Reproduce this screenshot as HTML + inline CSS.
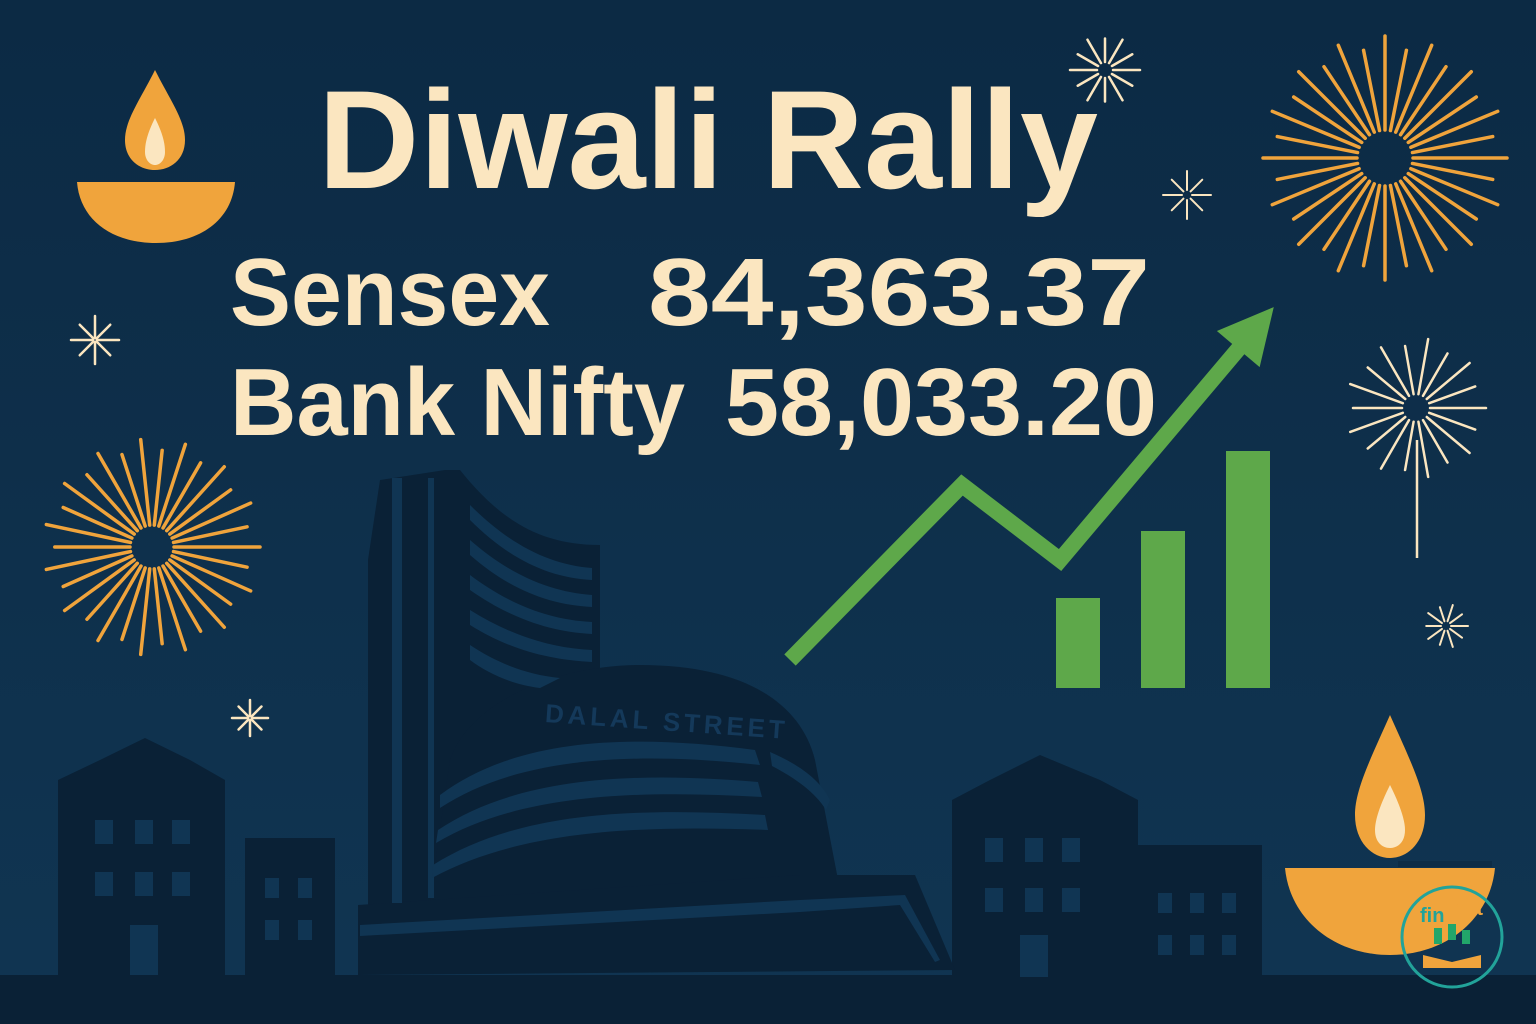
<!DOCTYPE html>
<html><head><meta charset="utf-8"><style>
html,body{margin:0;padding:0;width:1536px;height:1024px;overflow:hidden;background:#0d2c46}
svg{display:block}
text{font-family:"Liberation Sans",sans-serif;font-weight:bold}
</style></head><body>
<svg id="s" width="1536" height="1024" viewBox="0 0 1536 1024">
<defs>
<linearGradient id="bg" x1="0" y1="0" x2="0" y2="1"><stop offset="0" stop-color="#0c2a44"/><stop offset="1" stop-color="#103552"/></linearGradient>
</defs>
<rect width="1536" height="1024" fill="url(#bg)"/>
<g id="fx"></g>

<!-- skyline -->
<g fill="#0a2136">
<path d="M58,780 L100,760 L145,738 L190,760 L225,780 L225,1000 L58,1000Z"/>
<rect x="245" y="838" width="90" height="162"/>
<path d="M952,800 L990,780 L1040,755 L1100,780 L1138,800 L1138,1000 L952,1000Z"/>
<rect x="1130" y="845" width="132" height="155"/>
<path d="M380,480 L445,470 L460,470 C500,520 540,545 600,545 L600,900 L368,910 L368,560Z"/>
<path d="M430,900 L450,760 C470,700 560,665 640,665 C740,665 800,700 815,760 L840,890Z"/>
<path d="M358,905 L800,875 L915,875 L955,970 L358,975Z"/>
<rect x="0" y="975" width="1536" height="49"/>
</g>
<g fill="#103553">
<rect x="392" y="478" width="10" height="425"/><rect x="428" y="478" width="6" height="420"/>
<path d="M470,505 C510,545 550,565 592,568 L592,580 C550,578 510,560 470,520Z"/>
<path d="M470,540 C510,575 550,592 592,595 L592,607 C550,605 510,590 470,555Z"/>
<path d="M470,575 C510,605 550,620 592,622 L592,634 C550,632 510,618 470,590Z"/>
<path d="M470,610 C510,635 550,648 592,650 L592,662 C550,660 510,650 470,625Z"/>
<path d="M470,645 C500,665 530,675 560,678 L540,688 C515,685 490,675 470,660Z"/>
<path d="M440,795 C520,735 640,735 755,750 L760,765 C640,752 520,755 440,808Z"/>
<path d="M438,830 C520,775 640,772 758,782 L762,797 C640,790 520,793 436,843Z"/>
<path d="M433,865 C520,810 640,808 765,815 L768,830 C640,825 520,830 432,878Z"/>
<path d="M770,752 C800,765 820,780 830,800 L826,810 C815,792 795,778 772,766Z"/>
<path d="M360,925 L800,900 L905,895 L940,960 L935,962 L900,905 L800,912 L360,936Z"/>
<g fill="#103553">
<rect x="95" y="820" width="18" height="24"/><rect x="135" y="820" width="18" height="24"/><rect x="172" y="820" width="18" height="24"/>
<rect x="95" y="872" width="18" height="24"/><rect x="135" y="872" width="18" height="24"/><rect x="172" y="872" width="18" height="24"/>
<rect x="130" y="925" width="28" height="50"/>
<rect x="265" y="878" width="14" height="20"/><rect x="298" y="878" width="14" height="20"/><rect x="265" y="920" width="14" height="20"/><rect x="298" y="920" width="14" height="20"/>
<rect x="985" y="838" width="18" height="24"/><rect x="1025" y="838" width="18" height="24"/><rect x="1062" y="838" width="18" height="24"/>
<rect x="985" y="888" width="18" height="24"/><rect x="1025" y="888" width="18" height="24"/><rect x="1062" y="888" width="18" height="24"/>
<rect x="1020" y="935" width="28" height="42"/>
<rect x="1158" y="893" width="14" height="20"/><rect x="1190" y="893" width="14" height="20"/><rect x="1222" y="893" width="14" height="20"/>
<rect x="1158" y="935" width="14" height="20"/><rect x="1190" y="935" width="14" height="20"/><rect x="1222" y="935" width="14" height="20"/>
</g>
</g>
<text x="545" y="730" font-size="26" fill="#14395a" transform="rotate(4 660 720)" textLength="240">DALAL STREET</text>

<!-- diyas -->
<g>
<path d="M155,70 C140,100 125,120 125,140 C125,160 140,170 155,170 C170,170 185,160 185,140 C185,120 170,100 155,70Z" fill="#f0a43c"/>
<path d="M155,118 C148,132 145,142 145,152 C145,160 150,165 155,165 C160,165 165,160 165,152 C165,142 162,132 155,118Z" fill="#fbe6c0"/>
<path d="M77,182 L235,182 C232,220 200,243 156,243 C112,243 80,220 77,182Z" fill="#f0a43c"/>
</g>
<g>
<path d="M1390,715 C1370,760 1355,790 1355,815 C1355,842 1372,858 1390,858 C1408,858 1425,842 1425,815 C1425,790 1410,760 1390,715Z" fill="#f0a43c"/>
<path d="M1390,785 C1380,805 1375,820 1375,830 C1375,842 1382,848 1390,848 C1398,848 1405,842 1405,830 C1405,820 1400,805 1390,785Z" fill="#fbe6c0"/>
<path d="M1285,868 L1495,868 C1490,920 1445,955 1390,955 C1335,955 1290,920 1285,868Z" fill="#f0a43c"/>
<path d="M1398,864 L1492,864" stroke="#0d2c46" stroke-width="6"/>
</g>
<g>
<circle cx="1452" cy="937" r="50" fill="none" stroke="#22a39a" stroke-width="3"/>
<text x="1420" y="922" font-size="20" fill="#22a39a">fin</text><text x="1452" y="915" font-size="20" fill="#f0a43c">hut</text>
<rect x="1434" y="928" width="8" height="16" fill="#22a66a"/><rect x="1448" y="924" width="8" height="16" fill="#22a66a"/><rect x="1462" y="930" width="8" height="14" fill="#22a66a"/>
<path d="M1423,955 L1452,962 L1481,955 L1481,968 L1423,968Z" fill="#f0a43c"/>
</g>

<!-- chart -->
<g id="chart"></g>

<!-- text -->
<text x="318" y="188" font-size="140" fill="#fbe6c0" textLength="780" lengthAdjust="spacingAndGlyphs">Diwali Rally</text>
<text x="230" y="325" font-size="96" fill="#fbe6c0" textLength="320" lengthAdjust="spacingAndGlyphs">Sensex</text>
<text x="648" y="325" font-size="96" fill="#fbe6c0" textLength="502" lengthAdjust="spacingAndGlyphs">84,363.37</text>
<text x="230" y="435" font-size="96" fill="#fbe6c0" textLength="455" lengthAdjust="spacingAndGlyphs">Bank Nifty</text>
<text x="725" y="435" font-size="96" fill="#fbe6c0" textLength="432" lengthAdjust="spacingAndGlyphs">58,033.20</text>
</svg>
<script>
const barCategories = ["A","B","C"];
const barValues = [90, 157, 237];
const lineTimes = [0, 1, 1.57, 2.7];
const lineValues = [28, 203, 128, 358];

const NS = "http://www.w3.org/2000/svg";
const chart = document.getElementById('chart');
const yScale = v => 688 - v;
const xLine = t => 790 + t * 172;
const xBar = i => 1056 + i * 85;

barValues.forEach((v, i) => {
  const r = document.createElementNS(NS, 'rect');
  r.setAttribute('x', xBar(i)); r.setAttribute('y', yScale(v));
  r.setAttribute('width', 44); r.setAttribute('height', v);
  r.setAttribute('fill', '#5ea84a');
  
  
  chart.appendChild(r);
});
const pts = lineTimes.map((t, i) => [xLine(t), yScale(lineValues[i])]);
const pl = document.createElementNS(NS, 'polyline');
pl.setAttribute('points', pts.map(p => p.join(',')).join(' '));
pl.setAttribute('fill', 'none'); pl.setAttribute('stroke', '#5ea84a'); pl.setAttribute('stroke-width', 16);


chart.appendChild(pl);
const [a, b] = [pts[pts.length - 2], pts[pts.length - 1]];
const ang = Math.atan2(b[1] - a[1], b[0] - a[0]);
const tip = [b[0] + Math.cos(ang) * 30, b[1] + Math.sin(ang) * 30];
const L = 55, W = 28;
const bx = tip[0] - Math.cos(ang) * L, by = tip[1] - Math.sin(ang) * L;
const head = document.createElementNS(NS, 'polygon');
head.setAttribute('points', [tip, [bx - Math.sin(ang) * W, by + Math.cos(ang) * W], [bx + Math.sin(ang) * W, by - Math.cos(ang) * W]].map(p => p.join(',')).join(' '));
head.setAttribute('fill', '#5ea84a');


chart.appendChild(head);

const fx = document.getElementById('fx');
function burst(cx, cy, r0, r1, n, col, w, name) {
  const g = document.createElementNS(NS, 'g');
  
  
  for (let k = 0; k < n; k++) {
    const t = k / n * Math.PI * 2;
    const l = document.createElementNS(NS, 'line');
    const rr = r1 * (k % 2 ? 0.9 : 1);
    l.setAttribute('x1', cx + Math.cos(t) * r0); l.setAttribute('y1', cy + Math.sin(t) * r0);
    l.setAttribute('x2', cx + Math.cos(t) * rr); l.setAttribute('y2', cy + Math.sin(t) * rr);
    l.setAttribute('stroke', col); l.setAttribute('stroke-width', w); l.setAttribute('stroke-linecap', 'round');
    g.appendChild(l);
  }
  fx.appendChild(g);
}
burst(1385, 158, 28, 122, 32, '#f0a43c', 3.5, 'firework-top-right');
burst(152, 547, 22, 108, 30, '#f0a43c', 3.5, 'firework-left');
burst(1416, 408, 14, 70, 18, '#fbe6c0', 2.5, 'sparkler-right');
burst(1105, 70, 8, 35, 12, '#fbe6c0', 2.5, 'sparkle-1');
burst(1187, 195, 5, 24, 8, '#fbe6c0', 2, 'sparkle-2');
burst(95, 340, 2, 24, 8, '#fbe6c0', 2.5, 'sparkle-3');
burst(250, 718, 2, 18, 8, '#fbe6c0', 2.5, 'sparkle-4');
burst(1446, 626, 5, 22, 10, '#fbe6c0', 2, 'sparkle-5');
const tail = document.createElementNS(NS, 'line');
tail.setAttribute('x1', 1417); tail.setAttribute('y1', 440); tail.setAttribute('x2', 1417); tail.setAttribute('y2', 558);
tail.setAttribute('stroke', '#fbe6c0'); tail.setAttribute('stroke-width', 2.5);


fx.appendChild(tail);
</script>
</body></html>
